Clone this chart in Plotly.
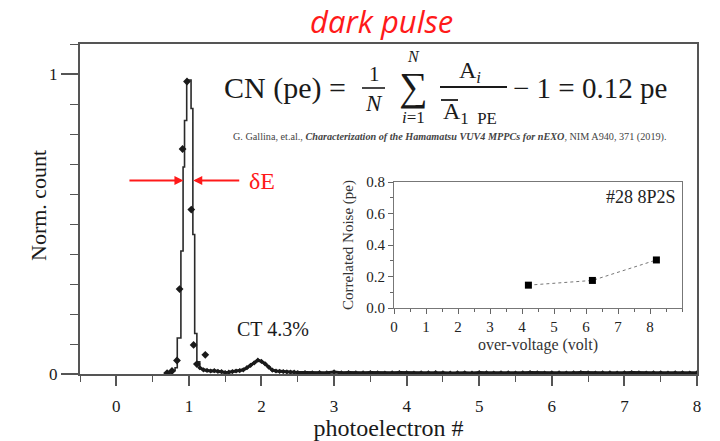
import plotly.graph_objects as go

# ---------------- data ----------------
# main histogram: peak region as step edges (hv) and values
peak_edges = [0.70, 0.74, 0.78, 0.81, 0.84, 0.89, 0.92, 0.94, 0.97, 1.03, 1.055, 1.08, 1.11, 1.15]
peak_vals = [0.003, 0.008, 0.012, 0.021, 0.12, 0.41, 0.69, 0.845, 0.98, 0.885, 0.465, 0.135, 0.041, 0.021]

# data points with error bars near the peak
peak_pts_x = [0.70, 0.767, 0.836, 0.872, 0.913, 0.974, 1.033, 1.065, 1.11, 1.226]
peak_pts_y = [0.003, 0.010, 0.045, 0.283, 0.75, 0.975, 0.548, 0.097, 0.033, 0.064]

# tail of the spectrum
tail_x = [1.15, 1.2, 1.25, 1.3, 1.35, 1.4, 1.45, 1.5, 1.55, 1.6, 1.65, 1.7, 1.75, 1.8,
          1.85, 1.9, 1.95, 2.0, 2.05, 2.1, 2.15, 2.2, 2.25, 2.3, 2.35, 2.4, 2.45, 2.5,
          2.6, 2.7, 2.8, 2.9, 3.0, 3.1, 3.2, 3.3, 3.4, 3.5, 3.6, 3.7, 3.8, 3.9,
          4.0, 4.1, 4.2, 4.3, 4.4, 4.5, 4.6, 4.7, 4.8, 4.9, 5.0, 5.1, 5.2, 5.3, 5.4,
          5.5, 5.6, 5.7, 5.8, 5.9, 6.0, 6.1, 6.2, 6.3, 6.4, 6.5, 6.6, 6.7, 6.8, 6.9,
          7.0, 7.1, 7.2, 7.3, 7.4, 7.5, 7.6, 7.7, 7.8, 7.9, 8.0]
tail_y = [0.021, 0.014, 0.012, 0.010, 0.011, 0.009, 0.008, 0.005, 0.006, 0.008, 0.010, 0.011, 0.014, 0.021,
          0.029, 0.037, 0.046, 0.042, 0.034, 0.023, 0.013, 0.010, 0.009, 0.008, 0.007, 0.006, 0.006, 0.005,
          0.005, 0.004, 0.005, 0.004, 0.007, 0.004, 0.005, 0.004, 0.004, 0.005, 0.004, 0.003, 0.004, 0.005,
          0.004, 0.003, 0.004, 0.004, 0.005, 0.004, 0.003, 0.004, 0.004, 0.003, 0.005, 0.004, 0.003, 0.004, 0.004,
          0.003, 0.004, 0.005, 0.004, 0.003, 0.004, 0.004, 0.003, 0.004, 0.005, 0.004, 0.003, 0.004, 0.004, 0.003,
          0.004, 0.005, 0.004, 0.003, 0.004, 0.004, 0.003, 0.004, 0.004, 0.003, 0.004]

# inset: correlated noise vs over-voltage
over_voltage = [4.2, 6.2, 8.2]
corr_noise = [0.145, 0.175, 0.305]

main_xticks = [0, 1, 2, 3, 4, 5, 6, 7, 8]
main_yticks = [0, 1]
inset_xticks = [0, 1, 2, 3, 4, 5, 6, 7, 8]
inset_yticks = [0.0, 0.2, 0.4, 0.6, 0.8]

# ---------------- layout helpers ----------------
W, H = 720, 441
L, R, T, B = 80, 697, 44, 374


def px(x):
    return (x - L) / (R - L)


def py(y):
    return (B - y) / (B - T)


SERIF = "Liberation Serif, Times New Roman, serif"
INK = "#1a1a1a"
AX = "#555555"

fig = go.Figure()

fig.add_trace(go.Scatter(x=peak_edges, y=peak_vals, mode="lines", line_shape="hv",
                         line=dict(color="#2a2a2a", width=1.6), xaxis="x", yaxis="y",
                         showlegend=False, hoverinfo="skip"))
fig.add_trace(go.Scatter(x=tail_x, y=tail_y, mode="lines+markers",
                         line=dict(color=INK, width=3),
                         marker=dict(color=INK, size=4, symbol="diamond"),
                         xaxis="x", yaxis="y", showlegend=False))
fig.add_trace(go.Scatter(x=peak_pts_x, y=peak_pts_y, mode="markers",
                         marker=dict(color=INK, size=6, symbol="diamond"),
                         xaxis="x", yaxis="y", showlegend=False))

fig.add_trace(go.Scatter(x=over_voltage, y=corr_noise, mode="lines+markers",
                         line=dict(color="#777777", width=1, dash="dot"),
                         marker=dict(color="black", size=7, symbol="square"),
                         xaxis="x2", yaxis="y2", showlegend=False))

tick_font = dict(family=SERIF, size=17, color=INK)
inset_tick_font = dict(family=SERIF, size=15, color="#222222")

fig.update_layout(
    width=W, height=H,
    margin=dict(l=L, r=W - R, t=T, b=H - B, autoexpand=False),
    paper_bgcolor="white", plot_bgcolor="white",
    xaxis=dict(domain=[0, 1], range=[-0.5, 8], tickvals=main_xticks,
               ticks="outside", ticklen=10, tickwidth=1.5, tickcolor=AX,
               minor=dict(dtick=0.5, tick0=0, ticks="outside", ticklen=6, tickwidth=1.2, tickcolor=AX),
               showline=True, linecolor=AX, linewidth=2, mirror=True, ticklabelstandoff=6,
               showgrid=False, zeroline=False, tickfont=tick_font,
               title=dict(text="photoelectron #", font=dict(family=SERIF, size=24, color=INK), standoff=0)),
    yaxis=dict(domain=[0, 1], range=[0, 1.10], tickvals=main_yticks,
               ticks="outside", ticklen=17, tickwidth=1.5, tickcolor=AX,
               minor=dict(dtick=0.1, tick0=0, ticks="outside", ticklen=8, tickwidth=1.2, tickcolor=AX),
               showline=True, linecolor=AX, linewidth=2, mirror=True,
               showgrid=False, zeroline=False, tickfont=tick_font),
    xaxis2=dict(domain=[px(394), px(682)], anchor="y2", range=[0, 9], tickvals=inset_xticks,
                ticks="outside", ticklen=5, tickwidth=1, tickcolor="#666",
                minor=dict(dtick=0.5, tick0=0, ticks="outside", ticklen=3, tickcolor="#666"),
                showline=True, linecolor="#777", linewidth=1, mirror=True,
                showgrid=False, zeroline=False, tickfont=inset_tick_font,
                title=dict(text="over-voltage (volt)", font=dict(family=SERIF, size=16, color="#333"), standoff=4)),
    yaxis2=dict(domain=[py(308), py(182)], anchor="x2", range=[0, 0.8], tickvals=inset_yticks,
                tickformat=".1f",
                ticks="outside", ticklen=5, tickwidth=1, tickcolor="#666",
                minor=dict(dtick=0.1, tick0=0, ticks="outside", ticklen=3, tickcolor="#666"),
                showline=True, linecolor="#777", linewidth=1, mirror=True,
                showgrid=False, zeroline=False, tickfont=inset_tick_font,
                title=dict(text="Correlated Noise (pe)", font=dict(family=SERIF, size=15, color="#333"), standoff=9)),
)

ann = []


def txt(x, y, text, size, color=INK, family=SERIF, xanchor="center", yanchor="middle", angle=0):
    ann.append(dict(x=px(x), y=py(y), xref="paper", yref="paper", text=text, showarrow=False,
                    font=dict(family=family, size=size, color=color), textangle=angle,
                    xanchor=xanchor, yanchor=yanchor))


# title
txt(381, 21, "<i>dark pulse</i>", 31, color="#ff1a1a", family="Open Sans, sans-serif")

# y axis title
txt(38, 206, "Norm. count", 22, angle=-90)

# formula
txt(348, 88, "CN (pe) =", 30, xanchor="right")
txt(374, 74, "1", 21)
txt(374, 103, "<i>N</i>", 23)
txt(413, 86, "\u2211", 40)
txt(413, 56, "<i>N</i>", 16)
txt(413, 117, "<i>i</i>=1", 17)
txt(470, 72, "A<sub><i>i</i></sub>", 24)
txt(441, 113, "A<sub>1  PE</sub>", 24, xanchor="left")
txt(511, 88, "\u2212 1 = 0.12 pe", 29, xanchor="left")
# citation
txt(450, 137, "G. Gallina, et.al., <b><i>Characterization of the Hamamatsu VUV4 MPPCs for nEXO</i></b>, NIM A940, 371 (2019).",
    10.2, color="#444444")

# annotations on plot
txt(273, 329, "CT 4.3%", 20)
txt(641, 197, "#28 8P2S", 18, color="#222")
txt(262, 181, "\u03b4E", 24, color="#ff1a1a")

# arrows for delta E
ann.append(dict(x=0.925, y=0.645, xref="x", yref="y", ax=-56, ay=0, text=" ", showarrow=True,
                arrowhead=2, arrowsize=1, arrowwidth=1.8, arrowcolor="#ff1a1a", font=dict(size=4)))
ann.append(dict(x=1.06, y=0.645, xref="x", yref="y", ax=48, ay=0, text=" ", showarrow=True,
                arrowhead=2, arrowsize=1, arrowwidth=1.8, arrowcolor="#ff1a1a", font=dict(size=4)))

fig.update_layout(annotations=ann)

# fraction bars and overline
shapes = [
    dict(type="line", xref="paper", yref="paper", x0=px(362), x1=px(385), y0=py(88), y1=py(88),
         line=dict(color=INK, width=1.6)),
    dict(type="line", xref="paper", yref="paper", x0=px(440), x1=px(507), y0=py(87), y1=py(87),
         line=dict(color=INK, width=2)),
    dict(type="line", xref="paper", yref="paper", x0=px(441), x1=px(458), y0=py(100), y1=py(100),
         line=dict(color=INK, width=1.8)),
]
fig.update_layout(shapes=shapes)

fig.write_html("out.html", config={"displayModeBar": False},
               post_script="document.body.style.margin='0';")
